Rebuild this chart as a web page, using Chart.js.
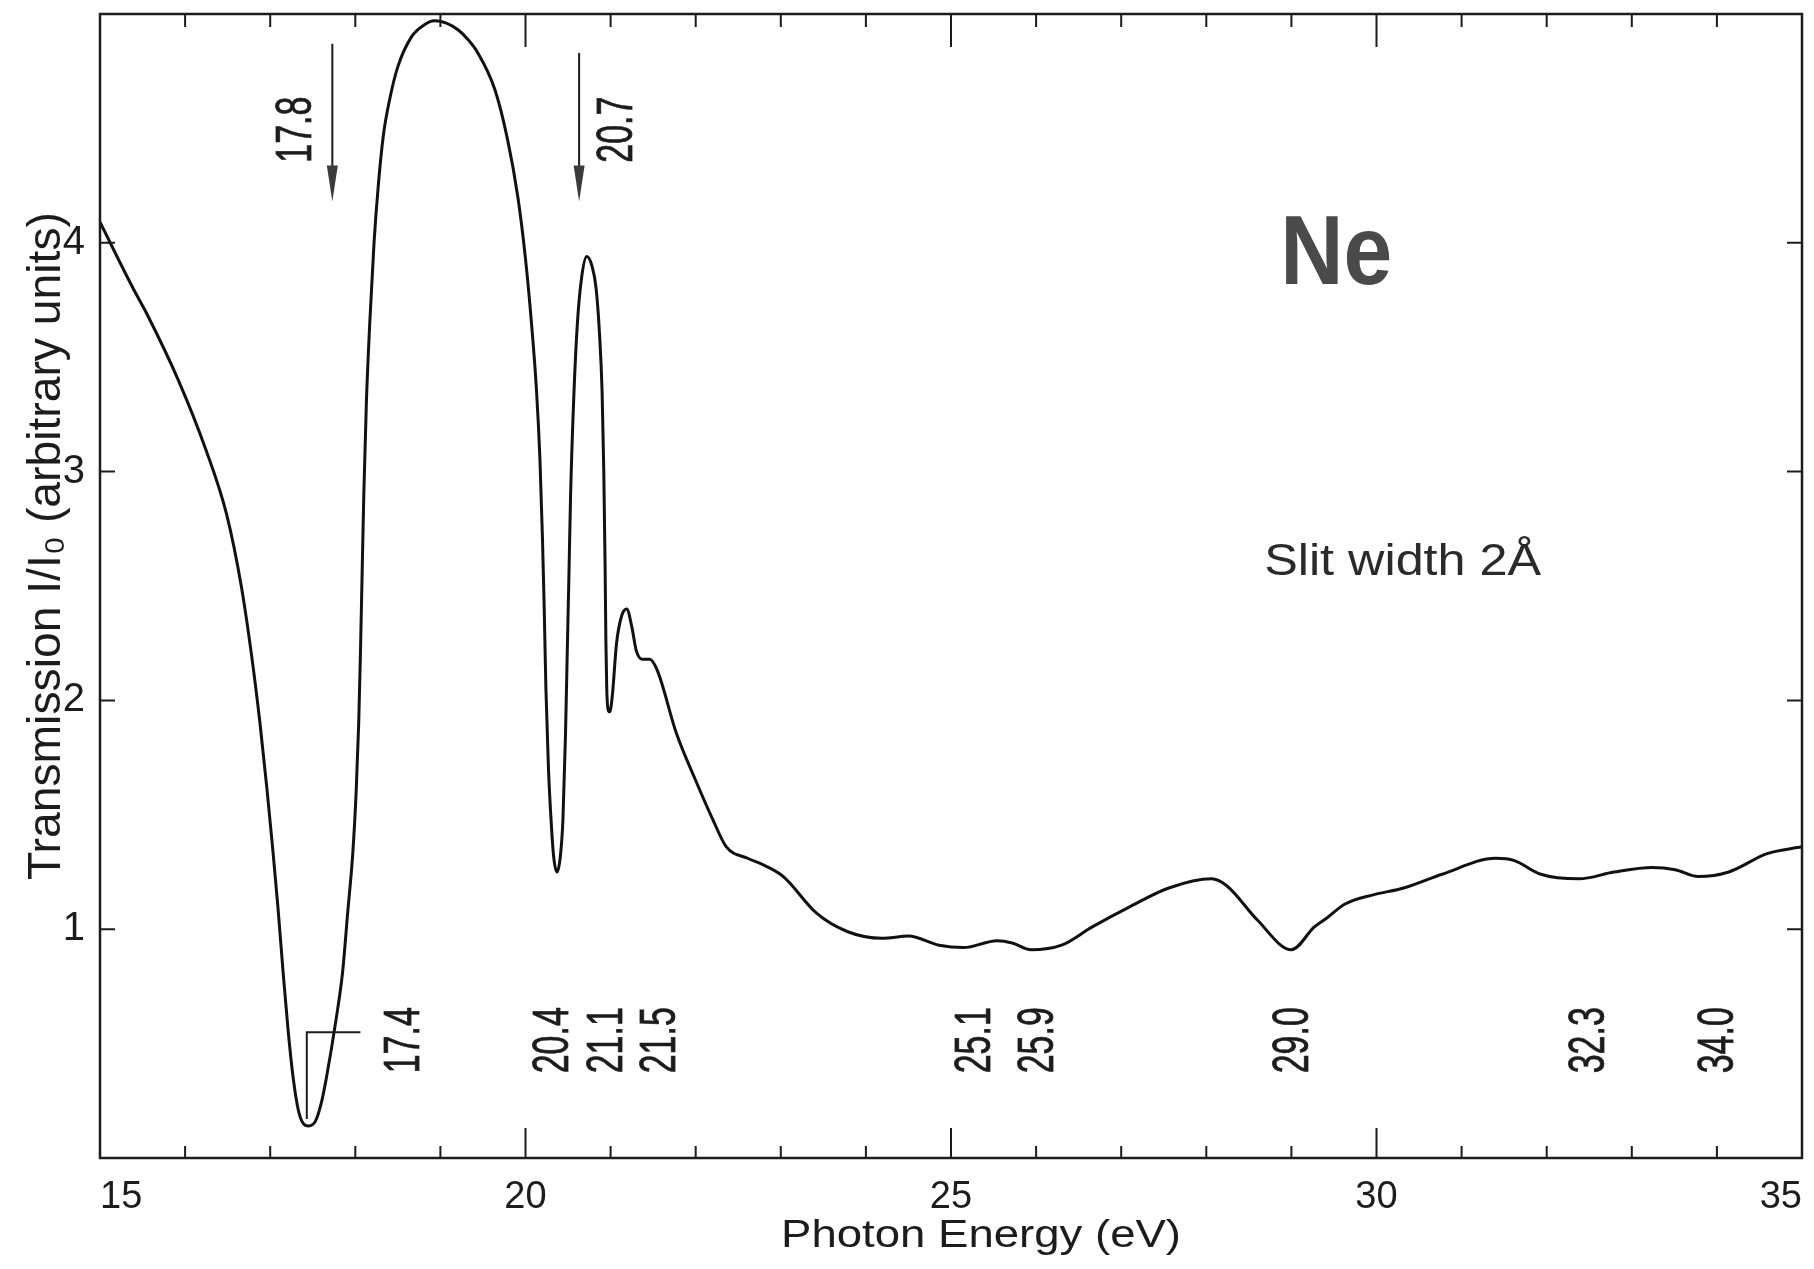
<!DOCTYPE html>
<html>
<head>
<meta charset="utf-8">
<title>Ne transmission</title>
<script src="https://cdn.jsdelivr.net/npm/chart.js@4.4.1/dist/chart.umd.min.js"></script>
<style>
  html, body { margin: 0; padding: 0; background: #fff; }
  #wrap { width: 1814px; height: 1269px; }
</style>
</head>
<body>
<div id="wrap"><canvas id="neChart" width="1814" height="1269"></canvas></div>
<script>
// Photon energy (eV) and transmission I/I0
const energy = [
    15.00, 15.39, 15.55, 15.92, 16.24, 16.49, 16.66, 16.78, 16.88, 16.96,
    17.03, 17.09, 17.15, 17.21, 17.27, 17.33, 17.39, 17.45, 17.53, 17.60,
    17.66, 17.78, 17.85, 17.91, 17.97, 18.01, 18.04, 18.06, 18.08, 18.10,
    18.13, 18.17, 18.22, 18.27, 18.33, 18.40, 18.50, 18.66, 18.80, 18.93,
    19.07, 19.21, 19.32, 19.44, 19.64, 19.79, 19.91, 20.00, 20.07, 20.13,
    20.17, 20.20, 20.22, 20.24, 20.27, 20.30, 20.33, 20.37, 20.41, 20.44,
    20.47, 20.49, 20.51, 20.53, 20.57, 20.61, 20.66, 20.72, 20.78, 20.83,
    20.87, 20.90, 20.92, 20.935, 20.945, 20.955, 20.97, 20.99, 21.02, 21.07,
    21.13, 21.19, 21.25, 21.30, 21.37, 21.46, 21.55, 21.77, 22.00, 22.20,
    22.36, 22.61, 22.80, 23.03, 23.42, 23.78, 24.19, 24.50, 24.86, 25.15,
    25.54, 25.72, 25.94, 26.30, 26.66, 27.11, 27.56, 28.06, 28.24, 28.60,
    29.00, 29.27, 29.42, 29.63, 29.96, 30.32, 30.77, 31.40, 31.62, 31.93,
    32.38, 32.79, 33.24, 33.51, 33.78, 34.14, 34.59, 35.00
];
const transmission = [
    4.09, 3.80, 3.69, 3.40, 3.10, 2.81, 2.50, 2.20, 1.90, 1.62,
    1.35, 1.10, 0.82, 0.56, 0.35, 0.21, 0.15, 0.14, 0.16, 0.24,
    0.35, 0.62, 0.81, 1.07, 1.33, 1.60, 1.90, 2.20, 2.55, 2.90,
    3.30, 3.65, 4.00, 4.25, 4.47, 4.62, 4.77, 4.90, 4.95, 4.97,
    4.96, 4.93, 4.89, 4.83, 4.67, 4.45, 4.20, 3.93, 3.65, 3.35,
    3.05, 2.70, 2.40, 2.05, 1.70, 1.48, 1.32, 1.25, 1.32, 1.48,
    1.85, 2.20, 2.54, 2.90, 3.35, 3.65, 3.85, 3.94, 3.90, 3.80,
    3.60, 3.35, 3.00, 2.60, 2.25, 2.05, 1.96, 1.95, 2.02, 2.25,
    2.37, 2.40, 2.32, 2.22, 2.18, 2.18, 2.13, 1.86, 1.65, 1.48,
    1.36, 1.31, 1.28, 1.23, 1.07, 0.99, 0.96, 0.97, 0.93, 0.92,
    0.95, 0.94, 0.91, 0.93, 1.01, 1.10, 1.18, 1.22, 1.19, 1.04,
    0.91, 1.01, 1.05, 1.11, 1.15, 1.18, 1.24, 1.31, 1.30, 1.24,
    1.22, 1.25, 1.27, 1.26, 1.23, 1.25, 1.33, 1.36
];

const xLabelled = [15, 20, 25, 30, 35];
const yLabelled = [1, 2, 3, 4];

// threshold arrows at the top and the structure labels under the curve
const arrowLabels = ['17.8', '20.7'];
const featureLabels = ['17.4', '20.4', '21.1', '21.5', '25.1', '25.9', '29.0', '32.3', '34.0'];

// where things sit (data units)
const arrowX = [17.73, 20.63];
const arrowTop = [4.87, 4.83];
const arrowTip = 4.18;
const arrowTextX = [17.27, 21.04];
const arrowTextStart = 4.35;
const featureX = [18.54, 20.29, 20.92, 21.55, 25.25, 25.99, 28.98, 32.46, 33.98];
const featureTextStart = 0.37;
const bracket = { x0: 17.43, x1: 18.06, yTop: 0.55, yBottom: 0.17 };

const FONT = '"Liberation Sans", Arial, sans-serif';
const INK = '#1c1c1c';

function fittedText(ctx, text, x, y, o) {
    ctx.save();
    ctx.translate(x, y);
    if (o.rotate) ctx.rotate(o.rotate);
    ctx.font = (o.weight || 'normal') + ' ' + o.size + 'px ' + FONT;
    ctx.fillStyle = o.color || INK;
    ctx.textAlign = o.align || 'left';
    ctx.textBaseline = 'alphabetic';
    let sx = o.scaleX || 1;
    if (o.width) sx = o.width / ctx.measureText(text).width;
    ctx.scale(sx, 1);
    ctx.fillText(text, 0, 0);
    if (o.stroke) {
        ctx.strokeStyle = o.color || INK;
        ctx.lineWidth = o.stroke;
        ctx.strokeText(text, 0, 0);
    }
    ctx.restore();
}

// frame plus inward ticks on all four sides
const frameAndTicks = {
    id: 'frameAndTicks',
    afterDraw(chart) {
        const { ctx, chartArea: a, scales: { x, y } } = chart;
        ctx.save();
        ctx.strokeStyle = INK;
        ctx.lineWidth = 2.5;
        ctx.strokeRect(a.left, a.top, a.right - a.left, a.bottom - a.top);
        ctx.lineWidth = 2;
        ctx.beginPath();
        x.ticks.forEach(t => {
            if (t.value <= x.min || t.value >= x.max) return;
            const px = x.getPixelForValue(t.value);
            const major = xLabelled.includes(t.value);
            ctx.moveTo(px, a.bottom); ctx.lineTo(px, a.bottom - (major ? 30 : 12));
            ctx.moveTo(px, a.top); ctx.lineTo(px, a.top + (major ? 33 : 13));
        });
        yLabelled.forEach(v => {
            const py = y.getPixelForValue(v);
            ctx.moveTo(a.left, py); ctx.lineTo(a.left + 15, py);
            ctx.moveTo(a.right, py); ctx.lineTo(a.right - 15, py);
        });
        ctx.stroke();
        ctx.restore();
    }
};

// arrows, bracket, peak labels, element name and axis titles
const annotations = {
    id: 'annotations',
    afterDraw(chart) {
        const { ctx, scales: { x, y } } = chart;
        const up = -Math.PI / 2;
        const labelSize = 50, capH = 36;

        ctx.save();
        ctx.strokeStyle = INK;
        ctx.fillStyle = '#3a3a3a';
        ctx.lineWidth = 2;
        arrowX.forEach((e, i) => {
            const px = x.getPixelForValue(e);
            const tip = y.getPixelForValue(arrowTip);
            ctx.beginPath();
            ctx.moveTo(px, y.getPixelForValue(arrowTop[i]));
            ctx.lineTo(px, tip - 20);
            ctx.stroke();
            ctx.beginPath();
            ctx.moveTo(px, tip);
            ctx.lineTo(px - 5.5, tip - 36);
            ctx.lineTo(px + 5.5, tip - 36);
            ctx.closePath();
            ctx.fill();
        });

        // 17.4 bracket
        const bx0 = x.getPixelForValue(bracket.x0);
        const by = y.getPixelForValue(bracket.yTop);
        ctx.beginPath();
        ctx.moveTo(bx0, y.getPixelForValue(bracket.yBottom));
        ctx.lineTo(bx0, by);
        ctx.lineTo(x.getPixelForValue(bracket.x1), by);
        ctx.stroke();
        ctx.restore();

        arrowLabels.forEach((t, i) => {
            fittedText(ctx, t, x.getPixelForValue(arrowTextX[i]) + capH / 2,
                y.getPixelForValue(arrowTextStart), { size: labelSize, scaleX: 0.68, rotate: up, stroke: 0.8 });
        });
        featureLabels.forEach((t, i) => {
            fittedText(ctx, t, x.getPixelForValue(featureX[i]) + capH / 2,
                y.getPixelForValue(featureTextStart), { size: labelSize, scaleX: 0.68, rotate: up, stroke: 0.8 });
        });

        fittedText(ctx, 'Ne', x.getPixelForValue(28.87), y.getPixelForValue(3.82),
            { size: 98, weight: 'bold', width: 112, color: '#4a4a4a' });
        fittedText(ctx, 'Slit width 2Å', x.getPixelForValue(28.68), y.getPixelForValue(2.55),
            { size: 45, width: 277, color: '#2a2a2a' });

        // axis titles
        fittedText(ctx, 'Photon Energy (eV)', 981, 1247, { size: 38, width: 400, align: 'center' });
        fittedText(ctx, 'Transmission I/I\u2080 (arbitrary units)', 60, 880,
            { size: 46, width: 668, rotate: up });
    }
};

createChart('neChart', {
    type: 'line',
    data: {
        datasets: [{
            data: energy.map((e, i) => ({ x: e, y: transmission[i] })),
            borderColor: '#111',
            borderWidth: 3,
            pointRadius: 0,
            fill: false,
            cubicInterpolationMode: 'monotone',
            borderJoinStyle: 'round'
        }]
    },
    options: {
        responsive: false,
        animation: false,
        devicePixelRatio: 1,
        layout: { padding: { top: 14, right: 12, left: 0, bottom: 0 } },
        plugins: { legend: { display: false }, tooltip: { enabled: false } },
        scales: {
            x: {
                type: 'linear',
                min: 15,
                max: 35,
                grid: { display: false, drawTicks: false },
                border: { display: false },
                ticks: {
                    stepSize: 1,
                    autoSkip: false,
                    maxRotation: 0,
                    align: 'inner',
                    padding: 17,
                    color: INK,
                    font: { family: FONT, size: 38 },
                    callback: v => xLabelled.includes(v) ? String(v) : ''
                },
                afterFit: s => {
                    s.height = 111;
                    s.paddingLeft = 0;
                    s.paddingRight = 0;
                }
            },
            y: {
                type: 'linear',
                min: 0,
                max: 5,
                grid: { display: false, drawTicks: false },
                border: { display: false },
                ticks: {
                    stepSize: 1,
                    padding: 15,
                    color: INK,
                    font: { family: FONT, size: 40 },
                    callback: v => yLabelled.includes(v) ? String(v) : ''
                },
                afterFit: s => {
                    s.width = 100;
                    s.paddingTop = 0;
                    s.paddingBottom = 0;
                }
            }
        }
    },
    plugins: [frameAndTicks, annotations]
});

function createChart(id, config) {
    const ctx = document.getElementById(id);
    if (!ctx) {
        console.error(`Canvas element with id '${id}' not found`);
        return;
    }
    ctx.chart = new Chart(ctx, config);
}
</script>
</body>
</html>
